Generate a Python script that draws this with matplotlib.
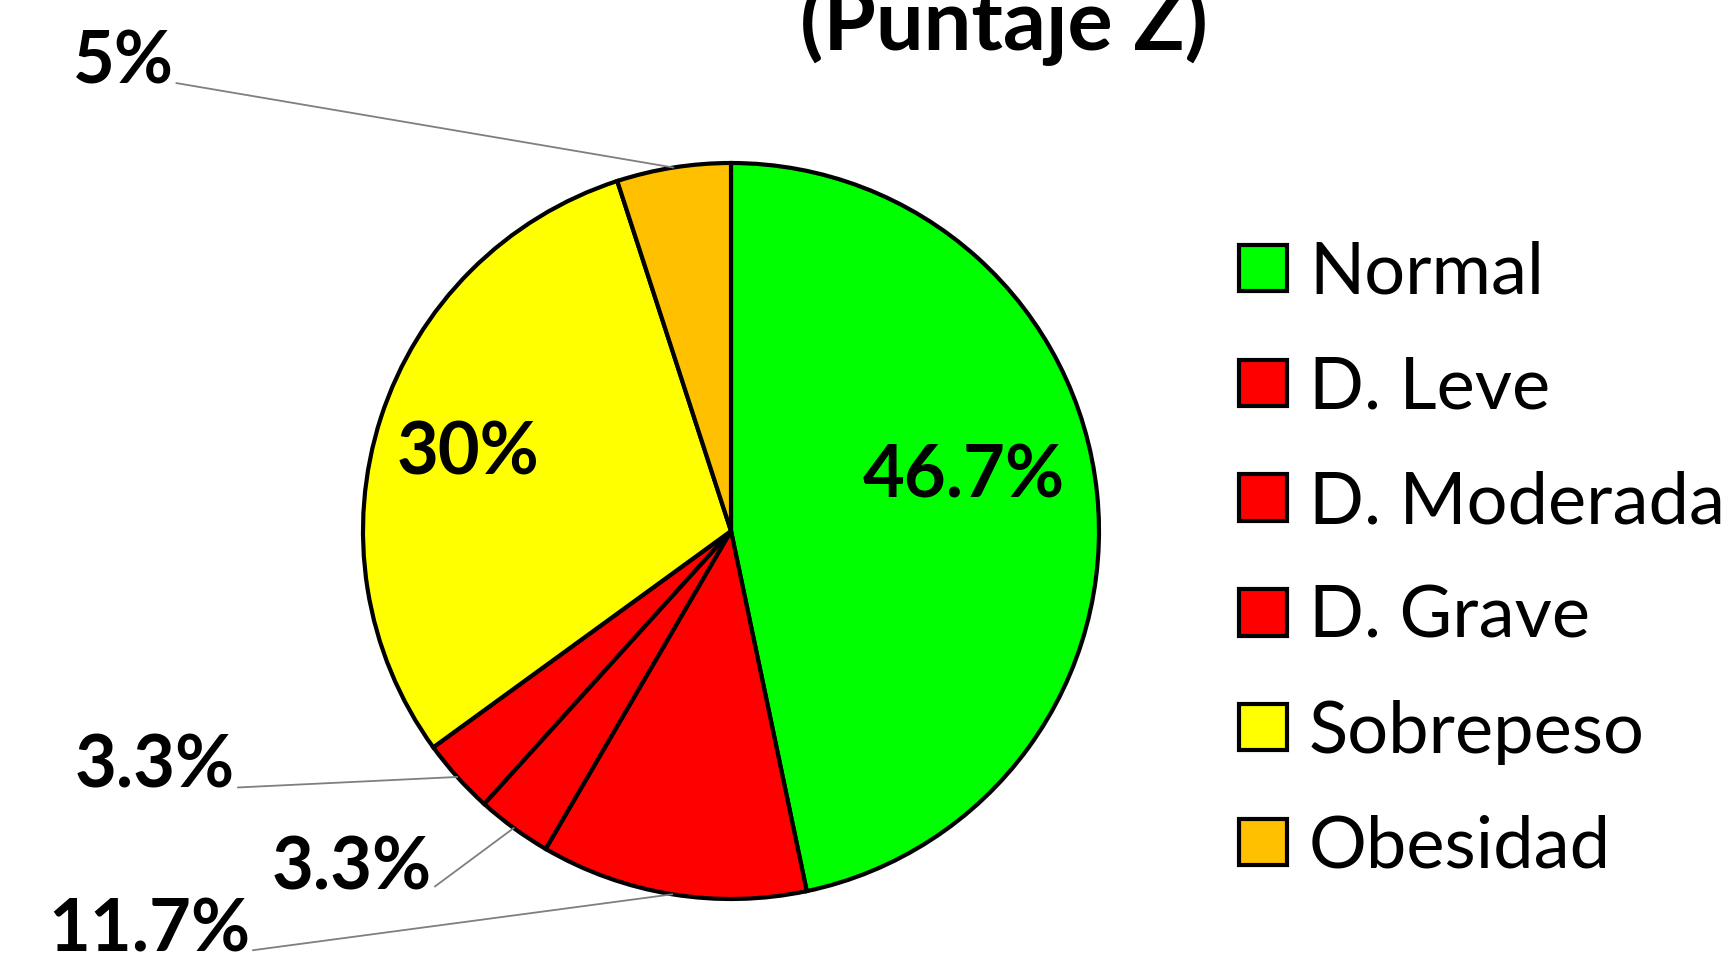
import matplotlib
matplotlib.use("Agg")
import matplotlib.pyplot as plt
import numpy as np

categories = ["Normal", "D. Leve", "D. Moderada", "D. Grave", "Sobrepeso", "Obesidad"]
values = [46.7, 11.7, 3.3, 3.3, 30.0, 5.0]
labels = ["46.7%", "11.7%", "3.3%", "3.3%", "30%", "5%"]
colors = ["#00FF00", "#FF0000", "#FF0000", "#FF0000", "#FFFF00", "#FFC000"]
title = "(Puntaje Z)"

W, H = 1732, 960
fig = plt.figure(figsize=(W / 100, H / 100), dpi=100)
fig.patch.set_facecolor("white")

# pie axes: center (731,531) px from top, radius 368 px
R = 368
cx, cy = 731, H - 531
lim = 1.05
side = 2 * lim * R
ax = fig.add_axes([(cx - side / 2) / W, (cy - side / 2) / H, side / W, side / H])

wedges, _ = ax.pie(values, colors=colors, startangle=90, counterclock=False,
                   wedgeprops=dict(edgecolor="black", linewidth=3.0))
ax.set_xlim(-lim, lim)
ax.set_ylim(-lim, lim)
ax.set_aspect("equal")
ax.axis("off")

lab_font = dict(family=["Lato", "DejaVu Sans"], fontweight="bold", fontsize=52, color="black")

# label positions (figure pixels, baseline) and whether outside with leader
label_pos = [(964, 463, False), (149, 9, True), (352, 71, True),
             (155, 172, True), (468, 485, False), (123, 877, True)]

for w, lab, (tx, ty, outside) in zip(wedges, labels, label_pos):
    mid = np.deg2rad((w.theta1 + w.theta2) / 2)
    ex, ey = np.cos(mid), np.sin(mid)
    if outside:
        ax.annotate(lab, xy=(ex, ey), xycoords="data",
                    xytext=(tx, ty), textcoords="figure pixels",
                    ha="center", va="baseline", **lab_font,
                    arrowprops=dict(arrowstyle="-", color="#7f7f7f", lw=1.3,
                                    shrinkA=0, shrinkB=0, relpos=(1.0, 0.2)),
                    annotation_clip=False)
    else:
        fig.text(tx / W, ty / H, lab, ha="center", va="baseline", **lab_font)

fig.text(1004 / W, 1 - 50 / H, title, ha="center", va="baseline",
         family=["Lato", "DejaVu Sans"], fontweight="bold", fontsize=61)

leg = fig.legend(wedges, categories, loc="center left",
                 bbox_to_anchor=(1239 / W, 1 - 560 / H),
                 frameon=False, prop=dict(family=["Lato", "DejaVu Sans"], size=52),
                 handlelength=0.67, handleheight=0.61, handletextpad=0.3,
                 labelspacing=0.69, borderpad=0, borderaxespad=0)
for h in leg.legend_handles:
    h.set_linewidth(3)

fig.savefig("out.png", dpi=100)
